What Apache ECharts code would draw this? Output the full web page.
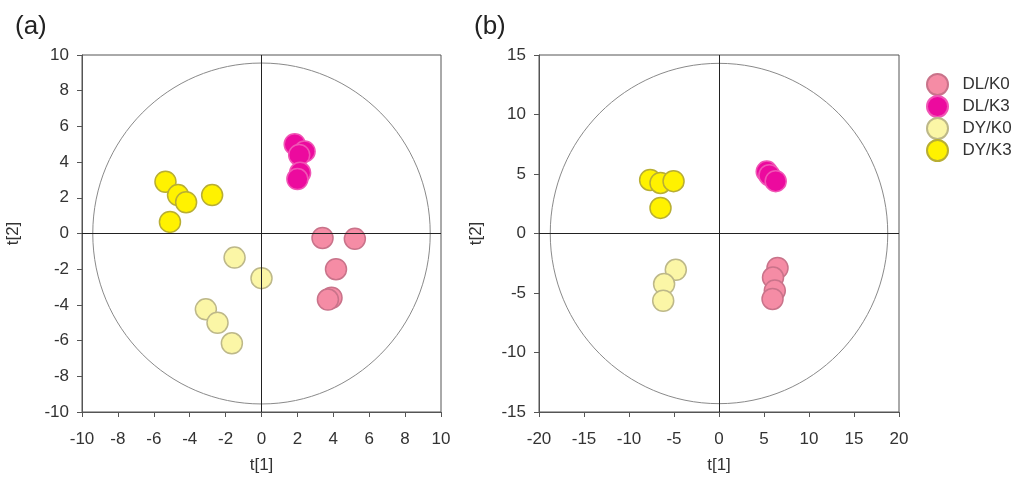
<!DOCTYPE html>
<html>
<head>
<meta charset="utf-8">
<script src="https://cdn.jsdelivr.net/npm/echarts@6/dist/echarts.min.js"></script>
<style>
html,body{margin:0;padding:0;background:#fff;}
#chart{width:1024px;height:483px;}
</style>
</head>
<body>
<div id="chart"></div>
<script>
// Group names
const groups = ['DL/K0', 'DL/K3', 'DY/K0', 'DY/K3'];
// Panel (a) scores [t1, t2]
const a_DLK0 = [[3.4,-0.25],[5.2,-0.3],[4.15,-2.0],[3.9,-3.6],[3.7,-3.7]];
const a_DLK3 = [[1.85,5.0],[2.4,4.6],[2.1,4.4],[2.15,3.4],[2.0,3.05]];
const a_DYK0 = [[-1.5,-1.35],[0.0,-2.5],[-3.1,-4.25],[-2.45,-5.0],[-1.65,-6.15]];
const a_DYK3 = [[-5.35,2.9],[-4.65,2.15],[-4.2,1.75],[-2.75,2.15],[-5.1,0.65]];
// Panel (b) scores [t1, t2]
const b_DLK0 = [[6.5,-2.9],[6.0,-3.7],[6.2,-4.8],[5.95,-5.5]];
const b_DLK3 = [[5.3,5.2],[5.6,4.9],[6.3,4.4]];
const b_DYK0 = [[-4.8,-3.05],[-6.1,-4.25],[-6.2,-5.65]];
const b_DYK3 = [[-7.65,4.5],[-6.5,4.25],[-5.05,4.4],[-6.5,2.15]];
// Hotelling ellipse radii [rx, ry]
const a_ellipse = [[9.4, 9.55]];
const b_ellipse = [[18.75, 14.3]];
// Axis ranges / ticks
const a_range = {min:-10, max:10, interval:2};
const b_xrange = {min:-20, max:20, interval:5};
const b_yrange = {min:-15, max:15, interval:5};

const fills = ['#F58CA5', '#EC0A9E', '#FBF6A6', '#FFF200'];
const borders = ['#C9738A', '#F055B5', '#BDB889', '#B8AE33'];

const chart = echarts.init(document.getElementById('chart'));
const FONT = 'Liberation Sans, Arial, sans-serif';
const axisCol = '#555';

function makeAxis(r, gi, name, isY, gap) {
  return {
    type:'value', gridIndex:gi, min:r.min, max:r.max, interval:r.interval,
    name:name, nameLocation:'middle', nameGap:gap,
    nameTextStyle:{fontFamily:FONT, fontSize:17, color:'#333'},
    axisLine:{show:true, onZero:false, lineStyle:{color:axisCol, width:1}},
    axisTick:{show:true, inside:false, length:5, lineStyle:{color:axisCol}},
    axisLabel:{fontFamily:FONT, fontSize:17, color:'#333', margin:isY?13:19},
    splitLine:{show:false}
  };
}

function ellipseSeries(gi, data) {
  return {
    type:'custom', xAxisIndex:gi, yAxisIndex:gi, silent:true, z:1,
    data:data,
    renderItem:function(params, api){
      const c = api.coord([0,0]);
      const s = api.size([api.value(0), api.value(1)]);
      return {type:'ellipse', shape:{cx:c[0], cy:c[1], rx:s[0], ry:s[1]},
              style:{fill:'none', stroke:'#8a8a8a', lineWidth:1}};
    },
    markLine:{silent:true, symbol:'none', label:{show:false},
      lineStyle:{color:'#222', width:1, type:'solid'},
      data:[{xAxis:0},{yAxis:0}]}
  };
}

function scatter(gi, gIdx, data) {
  return {
    type:'scatter', name:groups[gIdx], xAxisIndex:gi, yAxisIndex:gi, z:3,
    symbol:'circle', symbolSize:21, data:data,
    itemStyle:{color:fills[gIdx], borderColor:borders[gIdx], borderWidth:1.5, opacity:1}
  };
}

const option = {
  backgroundColor:'#fff',
  animation:false,
  title:[
    {text:'(a)', left:10, top:9, textStyle:{fontFamily:FONT, fontSize:26, fontWeight:'normal', color:'#222'}},
    {text:'(b)', left:469, top:9, textStyle:{fontFamily:FONT, fontSize:26, fontWeight:'normal', color:'#222'}}
  ],
  legend:{
    orient:'vertical', left:921, top:68, itemWidth:22, itemHeight:21, itemGap:-1,
    icon:'circle', data:groups,
    textStyle:{fontFamily:FONT, fontSize:17, lineHeight:18, color:'#333', padding:[0,0,0,9]}
  },
  grid:[
    {left:82, top:55, width:359, height:357, show:true, borderColor:axisCol, borderWidth:1, backgroundColor:'transparent'},
    {left:539, top:55, width:360, height:357, show:true, borderColor:axisCol, borderWidth:1, backgroundColor:'transparent'}
  ],
  xAxis:[makeAxis(a_range,0,'t[1]',false,45), makeAxis(b_xrange,1,'t[1]',false,45)],
  yAxis:[makeAxis(a_range,0,'t[2]',true,60), makeAxis(b_yrange,1,'t[2]',true,54)],
  series:[
    ellipseSeries(0, a_ellipse),
    ellipseSeries(1, b_ellipse),
    scatter(0,0,a_DLK0), scatter(0,1,a_DLK3), scatter(0,2,a_DYK0), scatter(0,3,a_DYK3),
    scatter(1,0,b_DLK0), scatter(1,1,b_DLK3), scatter(1,2,b_DYK0), scatter(1,3,b_DYK3)
  ]
};
chart.setOption(option);
</script>
</body>
</html>
